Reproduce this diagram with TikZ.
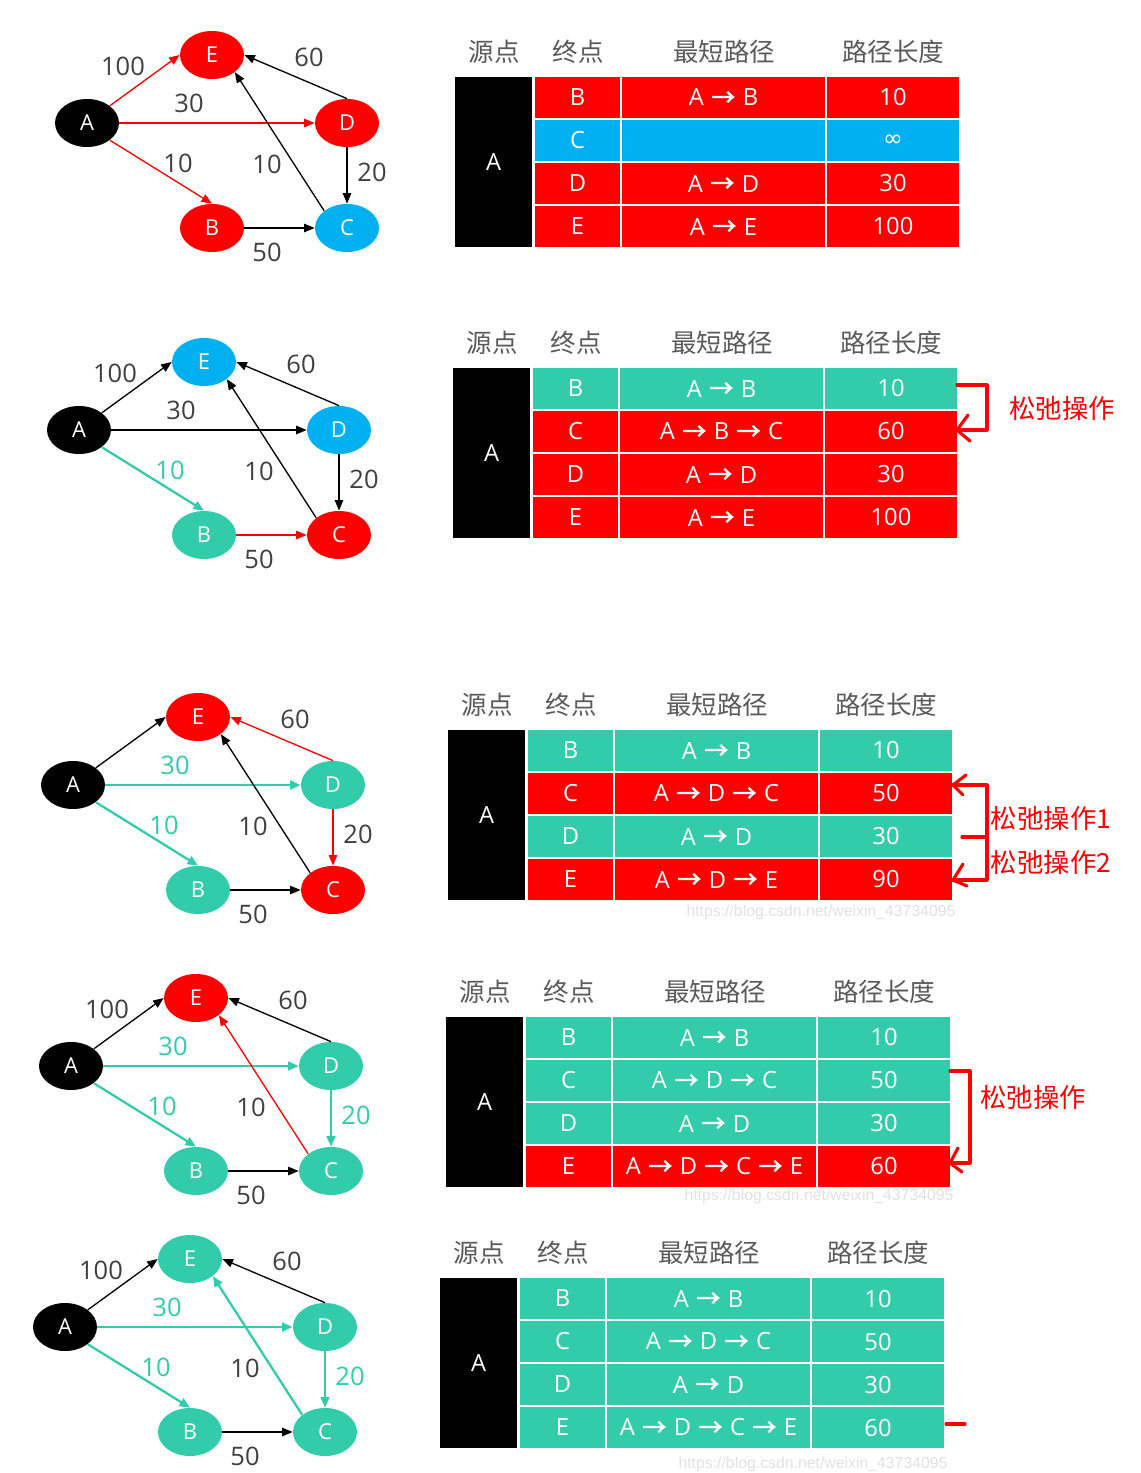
\documentclass[tikz,border=0pt]{standalone}
\usepackage{fontspec}
\setmainfont{Open Sans}
\newfontfamily\cjk{Noto Sans CJK SC}
\newfontfamily\symfont{DejaVu Sans}
\newfontfamily\wmfont{Liberation Sans}
\usetikzlibrary{arrows.meta,shapes.geometric}

\definecolor{hred}{HTML}{FF0000}
\definecolor{hblue}{HTML}{00B0F0}
\definecolor{hteal}{HTML}{33CCAA}
\definecolor{lblgray}{HTML}{404040}
\definecolor{hdrgray}{HTML}{5A5A5A}
\definecolor{wmgray}{HTML}{E2E2E2}

% path arrow glyph used inside the table cells
\newcommand\ar{\hspace{0.06em}{\cjk\addfontfeature{FakeBold=2.2}→}\hspace{0.06em}}

\tikzset{
  vtx/.style={ellipse, minimum width=64*0.02cm, minimum height=48*0.02cm,
    inner sep=0pt, text=white, font=\fontsize{12.5}{13}\selectfont},
  blkline/.style={draw=black, line width=0.75pt, -{Triangle[length=6pt,width=4.8pt]}},
  redline/.style={draw=hred, line width=0.75pt, -{Triangle[length=6pt,width=4.8pt]}},
  tealline/.style={draw=hteal, line width=1.3pt, -{Triangle[length=6pt,width=5pt]}},
  wlab/.style={inner sep=0pt, text=lblgray, font=\fontsize{14.5}{15}\selectfont},
  tlab/.style={wlab, text=hteal},
  hdr/.style={inner sep=0pt, text=hdrgray, font=\cjk\fontsize{14.5}{15}\selectfont},
  cell/.style={draw=white, line width=1.1pt, inner sep=0pt, text=white,
    font=\fontsize{13.5}{14}\selectfont},
  note/.style={inner sep=0pt, text=hred, font=\cjk\fontsize{15}{16}\selectfont},
  bracket/.style={draw=hred, line width=1.8pt, line cap=round, line join=round},
  wmark/.style={inner sep=0pt, text=wmgray, font=\wmfont\fontsize{9}{10}\selectfont},
}

% header row and source cell of a table: #1 left x, #2 top y, #3 id
\newcommand\tablebase[3]{%
  \node[hdr] (hs#3) at (#1+40,#2-24) {源点};
  \node[hdr] (ht#3) at (#1+124,#2-24) {终点};
  \node[hdr] (hp#3) at (#1+270,#2-24) {最短路径};
  \node[hdr] (hl#3) at (#1+439,#2-24) {路径长度};
  \node[cell, fill=black, minimum width=79*0.02cm, minimum height=172*0.02cm]
    (src#3) at (#1+39.5,#2+86) {A};
}
% one table row: #1 left x, #2 row top y, #3 fill, #4 #5 #6 texts, #7 id
\newcommand\trow[7]{%
  \node[cell, fill=#3, minimum width=87*0.02cm, minimum height=43*0.02cm]
    (#7t) at (#1+123.5,#2+21.5) {#4};
  \node[cell, fill=#3, minimum width=205*0.02cm, minimum height=43*0.02cm]
    (#7p) at (#1+269.5,#2+21.5) {#5};
  \node[cell, fill=#3, minimum width=134*0.02cm, minimum height=43*0.02cm]
    (#7l) at (#1+439,#2+21.5) {#6};
}

\begin{document}
\begin{tikzpicture}[x=0.02cm, y=-0.02cm]
\fill[white] (0,0) rectangle (1141,1473);
\useasboundingbox (0,0) rectangle (1141,1473);

% ---------------- stage 1 ----------------
\begin{scope}[shift={(87,123)}]
  \node[vtx, fill=black] (a1) at (0,0) {A};
  \node[vtx, fill=hred]  (e1) at (125,-68) {E};
  \node[vtx, fill=hred]  (d1) at (260,0) {D};
  \node[vtx, fill=hred]  (b1) at (125,105) {B};
  \node[vtx, fill=hblue] (c1) at (260,105) {C};
  \draw[redline] (a1.north east) -- (e1.west);
  \draw[redline] (a1.east) -- (d1.west);
  \draw[redline] (a1.south east) -- (b1.north);
  \draw[blkline] (d1.north) -- (e1.east);
  \draw[blkline] (c1.north west) -- (e1.south east);
  \draw[blkline] (d1.south) -- (c1.north);
  \draw[blkline] (b1.east) -- (c1.west);
  \node[wlab] (l1ae) at (36,-57) {100};
  \node[wlab] (l1ad) at (102,-20) {30};
  \node[wlab] (l1ab) at (91,40) {10};
  \node[wlab] (l1ce) at (180,41) {10};
  \node[wlab] (l1de) at (222,-66) {60};
  \node[wlab] (l1dc) at (285,49) {20};
  \node[wlab] (l1bc) at (180,129) {50};
\end{scope}
\tablebase{454}{76}{1}
\trow{454}{76}{hred}{B}{A \ar{} B}{10}{r1b}
\trow{454}{119}{hblue}{C}{}{{\symfont ∞}}{r1c}
\trow{454}{162}{hred}{D}{A \ar{} D}{30}{r1d}
\trow{454}{205}{hred}{E}{A \ar{} E}{100}{r1e}

% ---------------- stage 2 ----------------
\begin{scope}[shift={(79,430)}]
  \node[vtx, fill=black] (a2) at (0,0) {A};
  \node[vtx, fill=hblue] (e2) at (125,-68) {E};
  \node[vtx, fill=hblue] (d2) at (260,0) {D};
  \node[vtx, fill=hteal] (b2) at (125,105) {B};
  \node[vtx, fill=hred]  (c2) at (260,105) {C};
  \draw[blkline] (a2.north east) -- (e2.west);
  \draw[blkline] (a2.east) -- (d2.west);
  \draw[tealline] (a2.south east) -- (b2.north);
  \draw[blkline] (d2.north) -- (e2.east);
  \draw[blkline] (c2.north west) -- (e2.south east);
  \draw[blkline] (d2.south) -- (c2.north);
  \draw[redline] (b2.east) -- (c2.west);
  \node[wlab] (l2ae) at (36,-57) {100};
  \node[wlab] (l2ad) at (102,-20) {30};
  \node[tlab] (l2ab) at (91,40) {10};
  \node[wlab] (l2ce) at (180,41) {10};
  \node[wlab] (l2de) at (222,-66) {60};
  \node[wlab] (l2dc) at (285,49) {20};
  \node[wlab] (l2bc) at (180,129) {50};
\end{scope}
\tablebase{452}{367}{2}
\trow{452}{367}{hteal}{B}{A \ar{} B}{10}{r2b}
\trow{452}{410}{hred}{C}{A \ar{} B \ar{} C}{60}{r2c}
\trow{452}{453}{hred}{D}{A \ar{} D}{30}{r2d}
\trow{452}{496}{hred}{E}{A \ar{} E}{100}{r2e}
\draw[bracket] (957,385) -- (987,385) -- (987,430) -- (957,430);
\draw[bracket] (968,415) -- (957,430) -- (970,441);
\node[note] (n2) at (1062,408) {松弛操作};

% ---------------- stage 3 ----------------
\begin{scope}[shift={(73,785)}]
  \node[vtx, fill=black] (a3) at (0,0) {A};
  \node[vtx, fill=hred]  (e3) at (125,-68) {E};
  \node[vtx, fill=hteal] (d3) at (260,0) {D};
  \node[vtx, fill=hteal] (b3) at (125,105) {B};
  \node[vtx, fill=hred]  (c3) at (260,105) {C};
  \draw[blkline] (a3.north east) -- (e3.west);
  \draw[tealline] (a3.east) -- (d3.west);
  \draw[tealline] (a3.south east) -- (b3.north);
  \draw[redline] (d3.north) -- (e3.east);
  \draw[blkline] (c3.north west) -- (e3.south east);
  \draw[redline] (d3.south) -- (c3.north);
  \draw[blkline] (b3.east) -- (c3.west);
  \node[tlab] (l3ad) at (102,-20) {30};
  \node[tlab] (l3ab) at (91,40) {10};
  \node[wlab] (l3ce) at (180,41) {10};
  \node[wlab] (l3de) at (222,-66) {60};
  \node[wlab] (l3dc) at (285,49) {20};
  \node[wlab] (l3bc) at (180,129) {50};
\end{scope}
\tablebase{447}{729}{3}
\trow{447}{729}{hteal}{B}{A \ar{} B}{10}{r3b}
\trow{447}{772}{hred}{C}{A \ar{} D \ar{} C}{50}{r3c}
\trow{447}{815}{hteal}{D}{A \ar{} D}{30}{r3d}
\trow{447}{858}{hred}{E}{A \ar{} D \ar{} E}{90}{r3e}
\draw[bracket] (953,785) -- (987,785) -- (987,880) -- (953,880);
\draw[bracket] (962,837) -- (987,837);
\draw[bracket] (966,775) -- (953,785) -- (963,795);
\draw[bracket] (963,864) -- (953,880) -- (967,886);
\node[note] (n3a) at (1051,818) {松弛操作1};
\node[note] (n3b) at (1051,862) {松弛操作2};
\node[wmark] (w3) at (821,912) {https://blog.csdn.net/weixin\_43734095};

% ---------------- stage 4 ----------------
\begin{scope}[shift={(71,1066)}]
  \node[vtx, fill=black] (a4) at (0,0) {A};
  \node[vtx, fill=hred]  (e4) at (125,-68) {E};
  \node[vtx, fill=hteal] (d4) at (260,0) {D};
  \node[vtx, fill=hteal] (b4) at (125,105) {B};
  \node[vtx, fill=hteal] (c4) at (260,105) {C};
  \draw[blkline] (a4.north east) -- (e4.west);
  \draw[tealline] (a4.east) -- (d4.west);
  \draw[tealline] (a4.south east) -- (b4.north);
  \draw[blkline] (d4.north) -- (e4.east);
  \draw[redline] (c4.north west) -- (e4.south east);
  \draw[tealline] (d4.south) -- (c4.north);
  \draw[blkline] (b4.east) -- (c4.west);
  \node[wlab] (l4ae) at (36,-57) {100};
  \node[tlab] (l4ad) at (102,-20) {30};
  \node[tlab] (l4ab) at (91,40) {10};
  \node[wlab] (l4ce) at (180,41) {10};
  \node[wlab] (l4de) at (222,-66) {60};
  \node[tlab] (l4dc) at (285,49) {20};
  \node[wlab] (l4bc) at (180,129) {50};
\end{scope}
\tablebase{445}{1016}{4}
\trow{445}{1016}{hteal}{B}{A \ar{} B}{10}{r4b}
\trow{445}{1059}{hteal}{C}{A \ar{} D \ar{} C}{50}{r4c}
\trow{445}{1102}{hteal}{D}{A \ar{} D}{30}{r4d}
\trow{445}{1145}{hred}{E}{A \ar{} D \ar{} C \ar{} E}{60}{r4e}
\draw[bracket] (950,1071) -- (970,1071) -- (970,1163) -- (950,1163);
\draw[bracket] (958,1148) -- (950,1163) -- (962,1172);
\node[note] (n4) at (1033,1097) {松弛操作};
\node[wmark] (w4) at (819,1196) {https://blog.csdn.net/weixin\_43734095};

% ---------------- stage 5 ----------------
\begin{scope}[shift={(65,1327)}]
  \node[vtx, fill=black] (a5) at (0,0) {A};
  \node[vtx, fill=hteal] (e5) at (125,-68) {E};
  \node[vtx, fill=hteal] (d5) at (260,0) {D};
  \node[vtx, fill=hteal] (b5) at (125,105) {B};
  \node[vtx, fill=hteal] (c5) at (260,105) {C};
  \draw[blkline] (a5.north east) -- (e5.west);
  \draw[tealline] (a5.east) -- (d5.west);
  \draw[tealline] (a5.south east) -- (b5.north);
  \draw[blkline] (d5.north) -- (e5.east);
  \draw[tealline] (c5.north west) -- (e5.south east);
  \draw[tealline] (d5.south) -- (c5.north);
  \draw[blkline] (b5.east) -- (c5.west);
  \node[wlab] (l5ae) at (36,-57) {100};
  \node[tlab] (l5ad) at (102,-20) {30};
  \node[tlab] (l5ab) at (91,40) {10};
  \node[wlab] (l5ce) at (180,41) {10};
  \node[wlab] (l5de) at (222,-66) {60};
  \node[tlab] (l5dc) at (285,49) {20};
  \node[wlab] (l5bc) at (180,129) {50};
\end{scope}
\tablebase{439}{1277}{5}
\trow{439}{1277}{hteal}{B}{A \ar{} B}{10}{r5b}
\trow{439}{1320}{hteal}{C}{A \ar{} D \ar{} C}{50}{r5c}
\trow{439}{1363}{hteal}{D}{A \ar{} D}{30}{r5d}
\trow{439}{1406}{hteal}{E}{A \ar{} D \ar{} C \ar{} E}{60}{r5e}
\draw[bracket] (946,1424) -- (965,1424);
\node[wmark] (w5) at (813,1464) {https://blog.csdn.net/weixin\_43734095};
\end{tikzpicture}
\end{document}
